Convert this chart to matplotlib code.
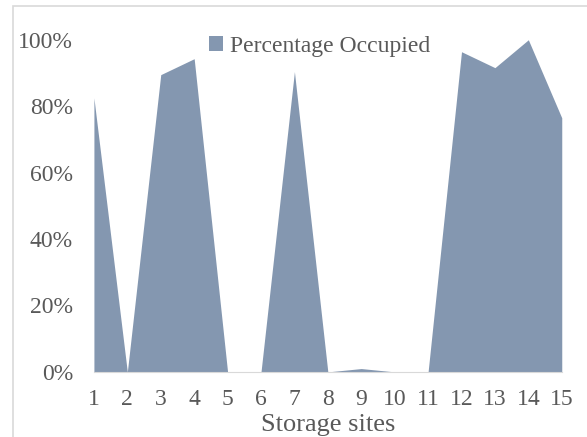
import matplotlib.pyplot as plt
from matplotlib.patches import Patch, Rectangle
from matplotlib.ticker import PercentFormatter

sites = list(range(1, 16))
occupied = [0.825, 0.0, 0.895, 0.943, 0.0, 0.0, 0.904, 0.0, 0.01, 0.0, 0.0, 0.964, 0.916, 1.0, 0.765]
series_name = "Percentage Occupied"

fill_color = "#8497B0"
text_color = "#595959"

plt.rcParams['font.family'] = ['Liberation Serif', 'DejaVu Serif']

fig = plt.figure(figsize=(5.87, 4.37), dpi=100)
ax = fig.add_axes([0.160, 0.149, 0.797, 0.760])

ax.fill_between(sites, occupied, 0, color=fill_color, linewidth=0)
ax.set_xlim(1, 15)
ax.set_ylim(0, 1.0)
ax.set_xticks(sites)
ax.set_yticks([0, 0.2, 0.4, 0.6, 0.8, 1.0])
ax.yaxis.set_major_formatter(PercentFormatter(1.0, decimals=0))

for s in ['top', 'right', 'left']:
    ax.spines[s].set_visible(False)
ax.spines['bottom'].set_color("#D9D9D9")
ax.tick_params(length=0, labelsize=17, colors=text_color)
ax.tick_params(axis='y', pad=15)
ax.tick_params(axis='x', pad=12)

ax.set_xlabel("Storage sites", fontsize=19, color=text_color, labelpad=3)

handle = Patch(facecolor=fill_color, edgecolor='none')
ax.legend([handle], [series_name], loc='upper center', bbox_to_anchor=(0.483, 1.075),
          frameon=False, fontsize=17, labelcolor=text_color,
          handlelength=0.6, handleheight=0.6, handletextpad=0.3)

# outer chart border (partly cropped in the reference)
fig.patches.append(Rectangle((13 / 587, -0.1), 1.2, 1 - 6 / 437 + 0.1,
                             transform=fig.transFigure, fill=False,
                             edgecolor="#D9D9D9", linewidth=1.2))

fig.savefig("out.png", dpi=100)
